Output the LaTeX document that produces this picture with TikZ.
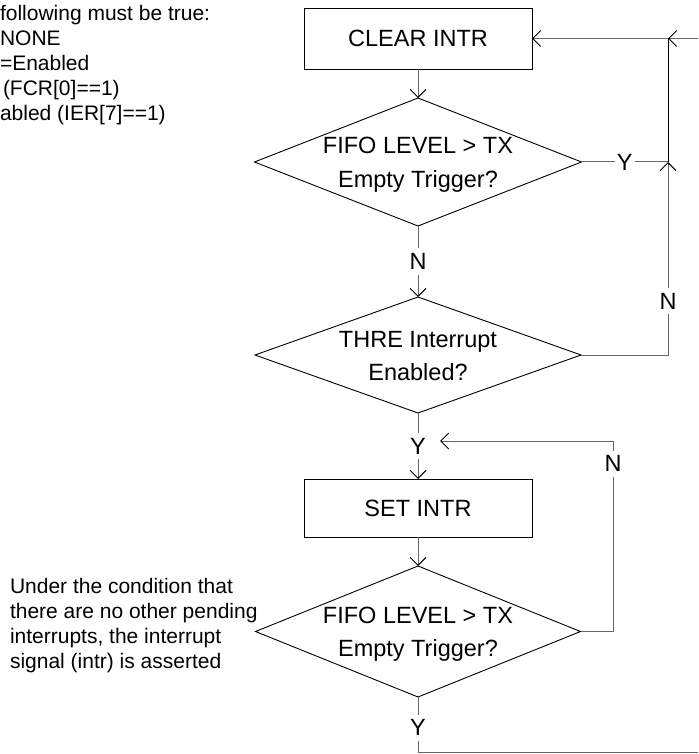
\documentclass[tikz,border=0pt]{standalone}
\usepackage{fontspec}
\setmainfont{Liberation Sans}
\usetikzlibrary{arrows.meta,shapes.geometric}
\newcommand\flowfont{\fontsize{23.5}{33}\selectfont}
\newcommand\notefont{\fontsize{21}{25}\selectfont}
\begin{document}
\begin{tikzpicture}[x=1pt,y=-1pt,
  box/.style={draw=black, line width=0.9pt, minimum width=228pt, inner sep=0pt, outer sep=0pt, font=\flowfont},
  dia/.style={draw=black, line width=0.9pt, diamond, inner sep=0pt, outer sep=0pt},
  conn/.style={draw=black!60, line width=1pt},
  arr/.style={-{Straight Barb[length=8pt,width=16pt,color=black]}},
  lbl/.style={fill=white, font=\flowfont, inner xsep=2pt, inner ysep=5pt, text=black},
  txt/.style={inner sep=0pt, outer sep=0pt, anchor=base, font=\flowfont},
  note/.style={inner sep=0pt, outer sep=0pt, anchor=base west, font=\notefont}]
\useasboundingbox (0,0) rectangle (698,754);

% shapes
\node[box, minimum height=61pt] (clr) at (418,38.5) {CLEAR INTR};
\node[dia, minimum width=327pt, minimum height=128pt] (d1) at (418,162) {};
\node[dia, minimum width=326pt, minimum height=116pt] (d2) at (418,355) {};
\node[box, minimum height=58pt] (set) at (418,508) {SET INTR};
\node[dia, minimum width=325pt, minimum height=131pt] (d3) at (418,631.5) {};

% diamond texts
\node[txt] (t1) at ([yshift=8pt]d1.center) {\begin{tabular}[t]{@{}c@{}}FIFO LEVEL > TX\\Empty Trigger?\end{tabular}};
\node[txt] (t2) at ([yshift=8pt]d2.center) {\begin{tabular}[t]{@{}c@{}}THRE Interrupt\\Enabled?\end{tabular}};
\node[txt] (t3) at ([yshift=8pt]d3.center) {\begin{tabular}[t]{@{}c@{}}FIFO LEVEL > TX\\Empty Trigger?\end{tabular}};

% notes
\node[note] (n1) at (0,20.7) {\begin{tabular}[t]{@{}l@{}}following must be true:\\NONE\\=Enabled\\\hspace*{3pt}(FCR[0]==1)\\abled (IER[7]==1)\end{tabular}};
\node[note] (n2) at (10,593) {\begin{tabular}[t]{@{}l@{}}Under the condition that\\there are no other pending\\interrupts, the interrupt\\signal (intr) is asserted\end{tabular}};

% helper points
\coordinate (jTop) at (668,38.5);
\coordinate (rEdge) at (698,38.5);
\coordinate (jY) at (668,162);
\coordinate (nT) at (613,441);
\coordinate (nTip) at (440,441);
\coordinate (bEdge) at (698,752);

% connectors
\draw[conn,arr] (clr.south) -- (d1.north);
\draw[conn] (d1.east) -- node[lbl]{Y} (jY);
\draw[conn,arr] (d2.east) -| node[lbl,pos=0.64]{N} (jY);
\draw[conn,draw=black] (jY) -- (jTop);
\draw[conn,arr] (rEdge) -- (jTop);
\draw[conn,arr] (jTop) -- (clr.east);
\draw[conn,arr] (d1.south) -- node[lbl]{N} (d2.north);
\draw[conn,arr] (d2.south) -- node[lbl]{Y} (set.north);
\draw[conn,arr] (set.south) -- (d3.north);
\draw[conn,arr] (d3.east) -| node[lbl,pos=0.94]{N} (nT) -- (nTip);
\draw[conn] (d3.south) -- node[lbl,pos=0.56]{Y} (d3.south |- bEdge) -- (bEdge);
\end{tikzpicture}
\end{document}
